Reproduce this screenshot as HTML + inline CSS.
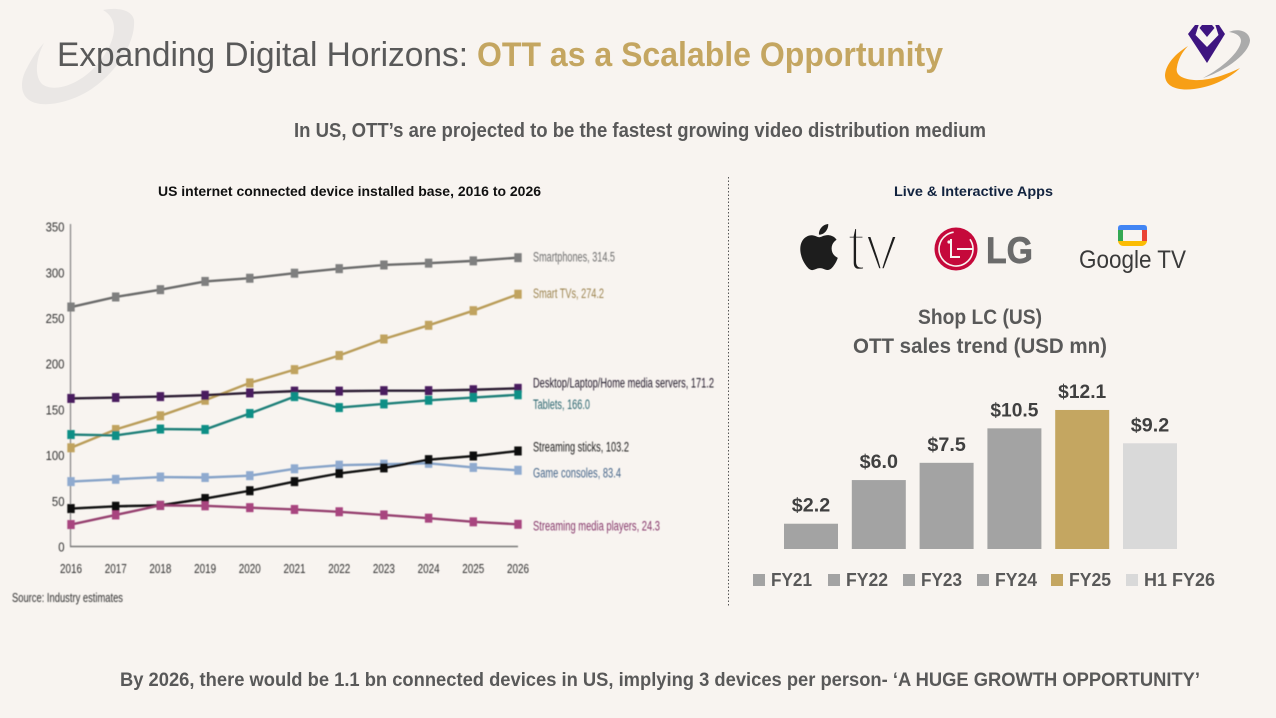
<!DOCTYPE html>
<html lang="en">
<head>
<meta charset="utf-8">
<title>Expanding Digital Horizons</title>
<style>
html,body{margin:0;padding:0;background:#F8F4F0}
svg{display:block;font-family:"Liberation Sans",sans-serif}
</style>
</head>
<body>
<svg id="slide" width="1276" height="718" viewBox="0 0 1276 718" xmlns="http://www.w3.org/2000/svg">
  <defs><filter id="soft" x="-5%" y="-5%" width="110%" height="110%"><feGaussianBlur stdDeviation="0.45"/></filter></defs>
  <rect width="1276" height="718" fill="#F8F4F0"/>
  <path d="M103 10C118 7 132 10 134 20C136 45 112 78 85 93C65 104 40 108 29 100C20 94 20 80 27 68C31 60 37 50 44 43C36 58 34 76 42 84C52 92 74 87 92 70C112 50 124 22 103 10Z" fill="#EAE7E5"/>

  <text y="66" font-size="34" fill="#595959" x="57" textLength="411" lengthAdjust="spacingAndGlyphs">Expanding Digital Horizons:</text>
  <text y="66" font-size="34" font-weight="bold" fill="#C4A661" x="477" textLength="466" lengthAdjust="spacingAndGlyphs">OTT as a Scalable Opportunity</text>

  <g>
    <path d="M1229 32C1238 28 1249 31 1250 40C1250 52 1228 70 1203 78C1222 68 1240 52 1241 41C1241 36 1236 33 1229 32Z" fill="#ABABAB"/>
    <path d="M1188 46C1175 54 1166 64 1165 75C1165 87 1178 91 1194 89C1212 87 1230 78 1240 68C1226 75 1208 81 1194 80C1182 79 1175 75 1177 67C1178 60 1182 52 1188 46Z" fill="#F79F16"/>
    <path d="M1188 34L1195 25H1219L1225 34L1207 63Z" fill="#3E1580"/>
    <path d="M1199 24L1195.5 35L1207 47L1218.5 35L1215 24Z" fill="#F8F4F0"/>
    <path d="M1202 25H1212L1214.5 28L1207 37L1199.5 28Z" fill="#3E1580"/>
  </g>

  <text x="294" y="137" font-size="20" font-weight="bold" fill="#595959" textLength="692" lengthAdjust="spacingAndGlyphs">In US, OTT’s are projected to be the fastest growing video distribution medium</text>

  <text x="158" y="196" font-size="14" font-weight="bold" fill="#111" textLength="383" lengthAdjust="spacingAndGlyphs">US internet connected device installed base, 2016 to 2026</text>

  <g id="lineChart" filter="url(#soft)"></g>

  <text x="12" y="602" font-size="13" fill="#333" textLength="111" lengthAdjust="spacingAndGlyphs" filter="url(#soft)">Source: Industry estimates</text>

  <line x1="728.5" y1="177" x2="728.5" y2="607" stroke="#555" stroke-width="1" stroke-dasharray="1.5 2"/>

  <text x="894" y="196" font-size="14" font-weight="bold" fill="#12233F" textLength="159" lengthAdjust="spacingAndGlyphs">Live &amp; Interactive Apps</text>

  <g>
    <path transform="translate(796 224) scale(1.92)" fill="#1d1d1d" d="M12.152 6.896c-.948 0-2.415-1.078-3.96-1.04-2.04.027-3.91 1.183-4.961 3.014-2.117 3.675-.546 9.103 1.519 12.09 1.013 1.454 2.208 3.09 3.792 3.039 1.52-.065 2.09-.987 3.935-.987 1.831 0 2.35.987 3.96.948 1.637-.026 2.676-1.48 3.676-2.948 1.156-1.688 1.636-3.325 1.662-3.415-.039-.013-3.182-1.221-3.22-4.857-.026-3.04 2.48-4.494 2.597-4.559-1.429-2.09-3.623-2.324-4.39-2.376-2-.156-3.675 1.09-4.61 1.09zM15.53 3.83c.843-1.012 1.4-2.427 1.245-3.83-1.207.052-2.662.805-3.532 1.818-.78.896-1.454 2.338-1.273 3.714 1.338.104 2.715-.688 3.559-1.701"/>
    <text x="847" y="270" font-size="66" fill="#1d1d1d" stroke="#F8F4F0" stroke-width="3.4" textLength="51" lengthAdjust="spacingAndGlyphs">tv</text>
  </g>

  <g>
    <circle cx="956" cy="249" r="21.5" fill="#C5093B"/>
    <circle cx="956" cy="249" r="17" fill="none" stroke="#F8F4F0" stroke-width="1.6" stroke-dasharray="88 19" transform="rotate(-35 956 249)"/>
    <path d="M951 239V257H960M957 249H973" fill="none" stroke="#F8F4F0" stroke-width="2"/>
    <circle cx="949" cy="242" r="1.6" fill="#F8F4F0"/>
    <text x="986" y="263" font-size="37" font-weight="bold" fill="#6B6B6B" stroke="#6B6B6B" stroke-width="0.7" textLength="47" lengthAdjust="spacingAndGlyphs">LG</text>
  </g>

  <g>
    <rect x="1120.5" y="227.5" width="24" height="16" rx="3" fill="none" stroke="#FBBC04" stroke-width="5"/>
    <path d="M1121 225H1144Q1147 225 1147 228V230H1118V228Q1118 225 1121 225Z" fill="#4285F4"/>
    <path d="M1118 230H1123V241H1118Z" fill="#34A853"/>
    <path d="M1142 230H1147V241H1142Z" fill="#EA4335"/>
    <text x="1079" y="268" font-size="25" fill="#3A3A3A" textLength="107" lengthAdjust="spacingAndGlyphs">Google TV</text>
  </g>

  <text x="918" y="324" font-size="21" font-weight="bold" fill="#595959" textLength="124" lengthAdjust="spacingAndGlyphs">Shop LC (US)</text>
  <text x="853" y="353" font-size="21" font-weight="bold" fill="#595959" textLength="254" lengthAdjust="spacingAndGlyphs">OTT sales trend (USD mn)</text>

  <g id="barChart"></g>

  <text x="120" y="686" font-size="19" font-weight="bold" fill="#595959" textLength="1080" lengthAdjust="spacingAndGlyphs">By 2026, there would be 1.1 bn connected devices in US, implying 3 devices per person- ‘A HUGE GROWTH OPPORTUNITY’</text>

<script>
var years = ['2016','2017','2018','2019','2020','2021','2022','2023','2024','2025','2026'];
var yTicks = [0,50,100,150,200,250,300,350];
var smartphones = [262,273,281,290,293.5,299,304,308,310,312.5,316];
var smartTvs = [108,128,143,160,179,193.5,209,227,242,258,276];
var desktops = [162,163,164,165.5,168,170,170,170.5,170.5,171.5,173];
var tablets = [122.5,121.5,128.5,128,145.5,164,152,156,160,163,166];
var gameConsoles = [71,73.5,76,75.5,77.5,85,89,90,91,86.5,83.4];
var streamingSticks = [41.5,44,45,52.5,61,71,80,86,95,99,104.5];
var streamingPlayers = [24,34.5,45,44.5,42.5,40.5,38,34.5,31,27,24.3];
var seriesNames = ['Smartphones','Smart TVs','Desktop/Laptop/Home media servers','Tablets','Game consoles','Streaming sticks','Streaming media players'];
var seriesValues = [smartphones,smartTvs,desktops,tablets,gameConsoles,streamingSticks,streamingPlayers];
var seriesColors = ['#7F7F7F','#C0A35E','#4A1A5E','#0F8F86','#8FAACF','#0A0A0A','#A8457F'];
var seriesLineColors = ['#6A6A6A','#B99C58','#2A1A30','#1F7F78','#86A3C8','#0A0A0A','#96406F'];
var labelColors = ['#6F6F6F','#9C8450','#221A2A','#2A6670','#46668A','#222222','#86386B'];
var labelValues = ['314.5','274.2','171.2','166.0','83.4','103.2','24.3'];

var barCategories = ['FY21','FY22','FY23','FY24','FY25','H1 FY26'];
var barValues = [2.2,6.0,7.5,10.5,12.1,9.2];
var barLabels = ['$2.2','$6.0','$7.5','$10.5','$12.1','$9.2'];
var barColors = ['#A3A3A3','#A3A3A3','#A3A3A3','#A3A3A3','#C4A661','#D9D9D9'];

var NS = 'http://www.w3.org/2000/svg';
function mk(parent, tag, attrs, txt){
  var e = document.createElementNS(NS, tag);
  for (var k in attrs) e.setAttribute(k, attrs[k]);
  if (txt !== undefined) e.textContent = txt;
  parent.appendChild(e);
  return e;
}
function xYear(i){ return 71 + i * 44.7; }
function yVal(v){ return 546.5 - v * 0.914; }

var lc = document.getElementById('lineChart');

var yAxis = mk(lc, 'line', {x1:70.5, y1:224, x2:70.5, y2:yVal(0), stroke:'#8A8A8A', 'stroke-width':1.3});


var xAxis = mk(lc, 'line', {x1:70, y1:yVal(0), x2:xYear(10), y2:yVal(0), stroke:'#777', 'stroke-width':1.5});



yTicks.forEach(function(t){
  var w = String(t).length * 6.3;
  var el = mk(lc, 'text', {x:64.5, y:yVal(t) + 5, 'text-anchor':'end', 'font-size':13, fill:'#333', textLength:w, lengthAdjust:'spacingAndGlyphs'}, String(t));
  
  
});
years.forEach(function(y, i){
  var el = mk(lc, 'text', {x:xYear(i), y:573, 'text-anchor':'middle', 'font-size':13, fill:'#333', textLength:22, lengthAdjust:'spacingAndGlyphs'}, y);
  
  
});

var labelWidths = [82,71,181,57,88,96,127];
var labelOffsets = [4,4,-1,14,7,0.5,6];
seriesValues.forEach(function(vals, s){
  var g = mk(lc, 'g', {});
  
  
  var pts = vals.map(function(v, i){ return xYear(i) + ',' + yVal(v); }).join(' ');
  var line = mk(g, 'polyline', {points:pts, fill:'none', stroke:seriesLineColors[s], 'stroke-width':2.4});
  
  
  vals.forEach(function(v, i){
    var m = mk(g, 'rect', {x:xYear(i) - 3.7, y:yVal(v) - 4.5, width:7.4, height:9, fill:seriesColors[s]});
    
    
  });
  var last = vals[vals.length - 1];
  var lab = mk(g, 'text', {x:533, y:yVal(last) + labelOffsets[s], 'font-size':13.5, fill:labelColors[s], textLength:labelWidths[s], lengthAdjust:'spacingAndGlyphs'}, seriesNames[s] + ', ' + labelValues[s]);
  
  
});

var bc = document.getElementById('barChart');
function xBar(i){ return 784 + i * 67.8; }
function barHeight(v){ return v * 11.49; }
var legendX = [753,828,903,977,1051,1126];
var legendW = [41,42,41,42,42,71];
barValues.forEach(function(v, i){
  var h = barHeight(v);
  var b = mk(bc, 'rect', {x:xBar(i), y:549 - h, width:54, height:h, fill:barColors[i]});
  
  
  var t = mk(bc, 'text', {x:xBar(i) + 27, y:549 - h - 12, 'text-anchor':'middle', 'font-size':19, 'font-weight':'bold', fill:'#404040', textLength:barLabels[i].length * 9.6, lengthAdjust:'spacingAndGlyphs'}, barLabels[i]);
  
  
  var sw = mk(bc, 'rect', {x:legendX[i], y:574, width:12, height:12, fill:barColors[i]});
  
  
  var lt = mk(bc, 'text', {x:legendX[i] + 18, y:586, 'font-size':18, 'font-weight':'bold', fill:'#595959', textLength:legendW[i], lengthAdjust:'spacingAndGlyphs'}, barCategories[i]);
  
  
});
</script>
</svg>
</body>
</html>
